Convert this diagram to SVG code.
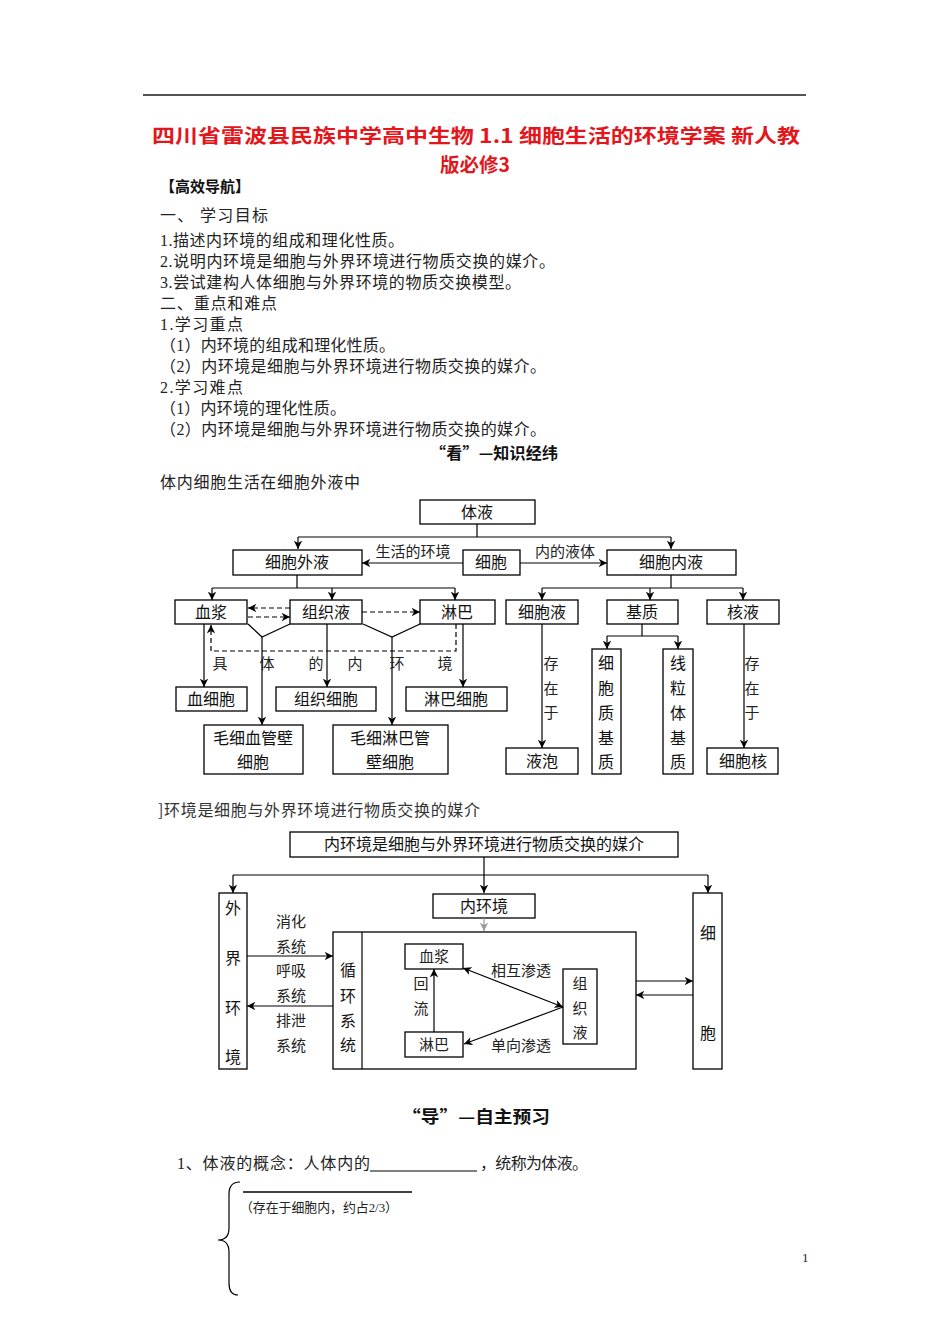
<svg xmlns="http://www.w3.org/2000/svg" width="950" height="1344" viewBox="0 0 950 1344">
<style>
.body{font-family:"Liberation Serif","Noto Sans CJK SC",serif;font-size:16px;fill:#222}
.bold{font-family:"Noto Sans CJK SC",sans-serif;font-size:16px;font-weight:bold;fill:#111}
.title{font-family:"Noto Sans CJK SC",sans-serif;font-size:19.5px;font-weight:bold;fill:#e3161c}
.lb{font-family:"Noto Sans CJK SC",sans-serif;font-size:16px;fill:#111;text-anchor:middle}
.sm{font-family:"Noto Sans CJK SC",sans-serif;font-size:15px;fill:#222;text-anchor:middle}
.box{fill:#fff;stroke:#000;stroke-width:1.3}
.ln{fill:none;stroke:#000;stroke-width:1.2}
.ar{marker-end:url(#ah)}
.dash{stroke-dasharray:5,3}
</style>
<defs>
<marker id="ah" viewBox="0 0 10 10" refX="10" refY="5" markerWidth="7" markerHeight="7" orient="auto-start-reverse"><path d="M0,0 L10,5 L0,10 L3,5 z" fill="#000"/></marker>
<marker id="ahg" viewBox="0 0 10 10" refX="10" refY="5" markerWidth="7" markerHeight="7" orient="auto"><path d="M0,0 L10,5 L0,10 L3,5 z" fill="#999"/></marker>
</defs>
<rect width="950" height="1344" fill="#fff"/>
<line x1="143" y1="95" x2="806" y2="95" stroke="#555" stroke-width="2"/>
<text class="title" x="152" y="143" textLength="648" lengthAdjust="spacingAndGlyphs">四川省雷波县民族中学高中生物 1.1 细胞生活的环境学案 新人教</text>
<text class="title" x="475" y="172" text-anchor="middle">版必修3</text>
<text class="bold" x="160" y="192" style="font-size:15px">【高效导航】</text>
<text class="body" x="160" y="221" textLength="108">一、  学习目标</text>
<text class="body" x="160" y="246" textLength="244">1.描述内环境的组成和理化性质。</text>
<text class="body" x="160" y="267" textLength="395">2.说明内环境是细胞与外界环境进行物质交换的媒介。</text>
<text class="body" x="160" y="288" textLength="361">3.尝试建构人体细胞与外界环境的物质交换模型。</text>
<text class="body" x="160" y="309" textLength="117">二、重点和难点</text>
<text class="body" x="160" y="330" textLength="83">1.学习重点</text>
<text class="body" x="160" y="351" textLength="235">（1）内环境的组成和理化性质。</text>
<text class="body" x="160" y="372" textLength="386">（2）内环境是细胞与外界环境进行物质交换的媒介。</text>
<text class="body" x="160" y="393" textLength="83">2.学习难点</text>
<text class="body" x="160" y="414" textLength="186">（1）内环境的理化性质。</text>
<text class="body" x="160" y="435" textLength="386">（2）内环境是细胞与外界环境进行物质交换的媒介。</text>
<text class="bold" x="430" y="459" textLength="128">“看”—知识经纬</text>
<text class="body" x="160" y="488" textLength="200">体内细胞生活在细胞外液中</text>

<g id="tiye"><rect class="box" x="420" y="500" width="115" height="24"/><text class="lb" x="477" y="518">体液</text></g>
<g id="xibaowaiye"><rect class="box" x="233" y="550" width="129" height="25"/><text class="lb" x="297" y="568">细胞外液</text></g>
<g id="xibao"><rect class="box" x="463" y="550" width="57" height="25"/><text class="lb" x="491" y="568">细胞</text></g>
<g id="xibaoneiye"><rect class="box" x="607" y="550" width="129" height="25"/><text class="lb" x="671" y="568">细胞内液</text></g>
<g id="xuejiang"><rect class="box" x="175" y="600" width="72" height="24"/><text class="lb" x="211" y="618">血浆</text></g>
<g id="zuzhiye"><rect class="box" x="290" y="600" width="72" height="24"/><text class="lb" x="326" y="618">组织液</text></g>
<g id="linba"><rect class="box" x="420" y="600" width="75" height="24"/><text class="lb" x="457" y="618">淋巴</text></g>
<g id="xibaoye"><rect class="box" x="506" y="600" width="72" height="24"/><text class="lb" x="542" y="618">细胞液</text></g>
<g id="jizhi"><rect class="box" x="607" y="600" width="71" height="24"/><text class="lb" x="642" y="618">基质</text></g>
<g id="heye"><rect class="box" x="707" y="600" width="72" height="24"/><text class="lb" x="743" y="618">核液</text></g>
<g id="xuexibao"><rect class="box" x="176" y="687" width="71" height="24"/><text class="lb" x="211" y="705">血细胞</text></g>
<g id="zuzhixibao"><rect class="box" x="276" y="687" width="100" height="24"/><text class="lb" x="326" y="705">组织细胞</text></g>
<g id="linbaxibao"><rect class="box" x="406" y="687" width="101" height="24"/><text class="lb" x="456" y="705">淋巴细胞</text></g>
<g id="maoxixueguan"><rect class="box" x="204" y="725" width="99" height="49"/><text class="lb"><tspan x="253" y="744">毛细血管壁</tspan><tspan x="253" y="768">细胞</tspan></text></g>
<g id="maoxilinba"><rect class="box" x="333" y="725" width="115" height="49"/><text class="lb"><tspan x="390" y="744">毛细淋巴管</tspan><tspan x="390" y="768">壁细胞</tspan></text></g>
<g id="yepao"><rect class="box" x="506" y="748" width="72" height="26"/><text class="lb" x="542" y="767">液泡</text></g>
<g id="xibaozhijizhi"><rect class="box" x="592" y="649" width="29" height="125"/><text class="lb"><tspan x="606" y="669">细</tspan><tspan x="606" y="694">胞</tspan><tspan x="606" y="719">质</tspan><tspan x="606" y="744">基</tspan><tspan x="606" y="768">质</tspan></text></g>
<g id="xianlitijizhi"><rect class="box" x="663" y="649" width="30" height="125"/><text class="lb"><tspan x="678" y="669">线</tspan><tspan x="678" y="694">粒</tspan><tspan x="678" y="719">体</tspan><tspan x="678" y="744">基</tspan><tspan x="678" y="768">质</tspan></text></g>
<g id="xibaohe"><rect class="box" x="707" y="748" width="71" height="26"/><text class="lb" x="743" y="767">细胞核</text></g>

<g id="connectors1">
<path class="ln" d="M477,524 V537 M298,537 H671"/>
<path class="ln ar" d="M298,537 V549"/>
<path class="ln ar" d="M671,537 V549"/>
<path class="ln ar" d="M463,563 H362"/>
<path class="ln ar" d="M520,563 H607"/>
<path class="ln" d="M297,575 V588 M212,588 H455"/>
<path class="ln ar" d="M212,588 V600"/>
<path class="ln ar" d="M332,588 V600"/>
<path class="ln ar" d="M455,588 V600"/>
<path class="ln" d="M671,575 V588 M542,588 H743"/>
<path class="ln ar" d="M542,588 V600"/>
<path class="ln ar" d="M650,588 V600"/>
<path class="ln ar" d="M743,588 V600"/>
<path class="ln dash ar" d="M290,608 H248"/>
<path class="ln dash ar" d="M248,617 H290"/>
<path class="ln dash ar" d="M362,612 H420"/>
<path class="ln" d="M248,624 L262,637 L290,624 M363,624 L392,637 L420,624"/>
<path class="ln ar" d="M262,637 V725"/>
<path class="ln ar" d="M392,637 V725"/>
<path class="ln ar" d="M204,624 V687"/>
<path class="ln ar" d="M327,624 V687"/>
<path class="ln ar" d="M463,624 V687"/>
<path class="ln dash ar" d="M456,624 V651 H211 V625"/>
<path class="ln ar" d="M542,624 V748"/>
<path class="ln" d="M642,624 V636 M607,636 H678"/>
<path class="ln ar" d="M607,636 V649"/>
<path class="ln ar" d="M678,636 V649"/>
<path class="ln ar" d="M744,624 V748"/>
<text class="sm" x="413" y="557">生活的环境</text>
<text class="sm" x="565" y="557">内的液体</text>
<text class="sm" y="669"><tspan x="220">具</tspan><tspan x="267">体</tspan><tspan x="316">的</tspan><tspan x="355">内</tspan><tspan x="397">环</tspan><tspan x="445">境</tspan></text>
<text class="sm"><tspan x="551" y="669">存</tspan><tspan x="551" y="694">在</tspan><tspan x="551" y="718">于</tspan></text>
<text class="sm"><tspan x="752" y="669">存</tspan><tspan x="752" y="694">在</tspan><tspan x="752" y="718">于</tspan></text>
</g>

<text x="158" y="816" textLength="322" style="font-family:'Noto Sans CJK SC',sans-serif;font-size:16px;fill:#333">]环境是细胞与外界环境进行物质交换的媒介</text>

<g id="meijie"><rect class="box" x="290" y="832" width="388" height="25"/><text class="lb" x="484" y="850">内环境是细胞与外界环境进行物质交换的媒介</text></g>
<g id="waijiehuanjing"><rect class="box" x="219" y="893" width="28" height="176"/><text class="lb"><tspan x="233" y="914">外</tspan><tspan x="233" y="964">界</tspan><tspan x="233" y="1014">环</tspan><tspan x="233" y="1063">境</tspan></text></g>
<g id="neihuanjing"><rect class="box" x="433" y="894" width="102" height="24"/><text class="lb" x="484" y="912">内环境</text></g>
<g id="xibao2"><rect class="box" x="693" y="893" width="29" height="176"/><text class="lb"><tspan x="708" y="939">细</tspan><tspan x="708" y="1039">胞</tspan></text></g>
<g id="bigbox"><rect class="box" x="333" y="932" width="303" height="137"/><line class="ln" x1="362" y1="932" x2="362" y2="1069"/><text class="lb"><tspan x="348" y="976">循</tspan><tspan x="348" y="1002">环</tspan><tspan x="348" y="1027">系</tspan><tspan x="348" y="1051">统</tspan></text></g>
<g id="xuejiang2"><rect class="box" x="405" y="944" width="58" height="25"/><text class="sm" x="434" y="962">血浆</text></g>
<g id="linba2"><rect class="box" x="405" y="1032" width="58" height="25"/><text class="sm" x="434" y="1050">淋巴</text></g>
<g id="zuzhiye2"><rect class="box" x="563" y="969" width="34" height="75"/><text class="sm"><tspan x="580" y="989">组</tspan><tspan x="580" y="1014">织</tspan><tspan x="580" y="1038">液</tspan></text></g>

<g id="connectors2">
<path class="ln ar" d="M484,857 V893" stroke-width="2"/>
<path class="ln" d="M233,875 H708"/>
<path class="ln ar" d="M233,875 V893"/>
<path class="ln ar" d="M708,875 V893"/>
<path d="M484,918 V931" fill="none" stroke="#999" stroke-width="1.2" marker-end="url(#ahg)"/>
<path class="ln ar" d="M247,956 H333"/>
<path class="ln ar" d="M333,1006 H247"/>
<path class="ln ar" d="M434,1032 V969"/>
<path class="ln ar" d="M463,968 L563,1007" marker-start="url(#ah)"/>
<path class="ln ar" d="M563,1007 L464,1044"/>
<path class="ln ar" d="M636,981 H693"/>
<path class="ln ar" d="M693,995 H636"/>
<text class="sm"><tspan x="291" y="927">消化</tspan><tspan x="291" y="952">系统</tspan><tspan x="291" y="976">呼吸</tspan><tspan x="291" y="1001">系统</tspan><tspan x="291" y="1026">排泄</tspan><tspan x="291" y="1051">系统</tspan></text>
<text class="sm"><tspan x="421" y="989">回</tspan><tspan x="421" y="1014">流</tspan></text>
<text class="sm" x="521" y="976">相互渗透</text>
<text class="sm" x="521" y="1051">单向渗透</text>
</g>

<text class="bold" x="402" y="1123" style="font-size:17px" textLength="148" lengthAdjust="spacingAndGlyphs">“导”—自主预习</text>
<text class="body" x="177" y="1169" textLength="193">1、体液的概念：人体内的</text>
<line x1="370" y1="1171" x2="477" y2="1171" stroke="#000" stroke-width="1"/>
<text class="body" x="480" y="1169" textLength="108">，统称为体液。</text>
<path d="M240,1182 Q229,1182 229,1194 V1228 Q229,1240 218,1240 Q229,1240 229,1252 V1283 Q229,1295 238,1295" fill="none" stroke="#000" stroke-width="1.2"/>
<line x1="243" y1="1192" x2="412" y2="1192" stroke="#000" stroke-width="1.3"/>
<text class="body" x="240" y="1212" style="font-size:13px" textLength="158" lengthAdjust="spacingAndGlyphs">（存在于细胞内，约占2/3）</text>
<text x="802" y="1262" style="font-family:'Liberation Serif',serif;font-size:13px;fill:#222">1</text>
</svg>
